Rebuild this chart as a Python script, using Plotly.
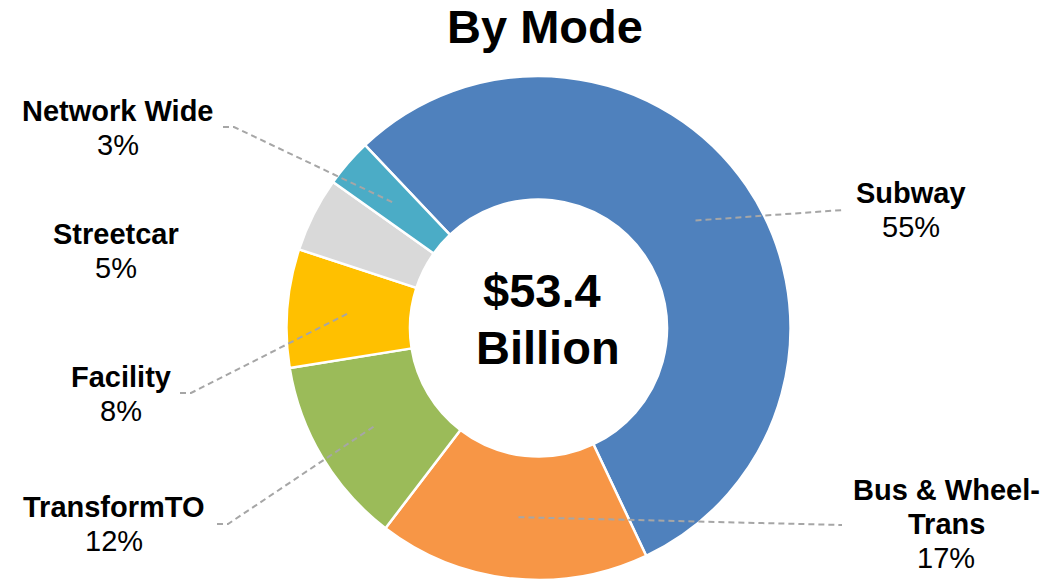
import math
import plotly.graph_objects as go

# ---- data ----
categories = ["Subway", "Bus & Wheel-Trans", "TransformTO", "Facility", "Streetcar", "Network Wide"]
values = [29.4, 9.3, 6.45, 4.05, 2.55, 1.65]  # $ billions
colors = ["#4F81BD", "#F79646", "#9BBB59", "#FFC000", "#D9D9D9", "#4BACC6"]
label_lines = [["Subway"], ["Bus & Wheel-", "Trans"], ["TransformTO"], ["Facility"], ["Streetcar"], ["Network Wide"]]
title_text = "By Mode"
center_lines = ["$53.4", "Billion"]

W, H = 1059, 580
ROT = -43.5          # start angle of first slice, clockwise from 12 o'clock
HOLE = 0.51
CX, CY, R = 538.5, 328.0, 252.0

# label layout: (center x px, first baseline px), leader line elbow (x px, y px) or None
label_pos = [
    (910.7, 203.3, (843, 210), "right"),
    (946.3, 500.0, (842, 525), "right"),
    (114.3, 517.3, (217, 524), "left"),
    (121.0, 387.3, (180, 393), "left"),
    (116.0, 244.0, None, None),
    (117.5, 120.7, (223, 127), "left"),
]

FS_LABEL = 29
FS_BIG = 47
LINE_GAP = 34

def px(x):
    return x / W

def py(y):
    return 1 - y / H

fig = go.Figure(go.Pie(
    labels=categories, values=values, sort=False, direction="clockwise",
    rotation=ROT, hole=HOLE, textinfo="none", hoverinfo="label+percent",
    marker=dict(colors=colors, line=dict(color="white", width=2.5)),
    domain=dict(x=[(CX - R) / W, (CX + R) / W], y=[py(CY + R), py(CY - R)]),
    showlegend=False,
))

annotations = []
shapes = []
total = sum(values)

def add_text(text, xc, baseline, size, bold):
    annotations.append(dict(
        text=f"<b>{text}</b>" if bold else text,
        x=px(xc), y=py(baseline - 0.35 * size), xref="paper", yref="paper",
        xanchor="center", yanchor="middle", showarrow=False,
        font=dict(family="Liberation Sans, Arial", size=size, color="black"),
    ))

cum = 0.0
r_mid = R * (1 + HOLE) / 2
for i, (cat, v) in enumerate(zip(categories, values)):
    mid = ROT + (cum + v / 2) / total * 360
    cum += v
    xc, base, elbow, side = label_pos[i]
    for j, line in enumerate(label_lines[i]):
        add_text(line, xc, base + j * LINE_GAP, FS_LABEL, True)
    pct = f"{round(v / total * 100)}%"
    add_text(pct, xc, base + len(label_lines[i]) * LINE_GAP, FS_LABEL, False)
    if elbow is not None:
        ax = CX + r_mid * math.sin(math.radians(mid))
        ay = CY - r_mid * math.cos(math.radians(mid))
        ex, ey = elbow
        if side == "left":
            pts = [(ex, ey), (ex + 11, ey), (ax, ay)]
        else:
            pts = [(ax, ay), (ex, ey)]
        path = "M " + " L ".join(f"{px(a):.5f},{py(b):.5f}" for a, b in pts)
        shapes.append(dict(type="path", path=path, xref="paper", yref="paper",
                           line=dict(color="#A6A6A6", width=2, dash="6px,4px")))

# center text
add_text(center_lines[0], 541.5, 306.7, FS_BIG, True)
add_text(center_lines[1], 547.7, 364.0, FS_BIG, True)
# title
add_text(title_text, 545.0, 42.7, FS_BIG, True)

fig.update_layout(
    width=W, height=H, margin=dict(l=0, r=0, t=0, b=0),
    paper_bgcolor="white", plot_bgcolor="white",
    annotations=annotations, shapes=shapes,
)

fig.write_html("out.html")
